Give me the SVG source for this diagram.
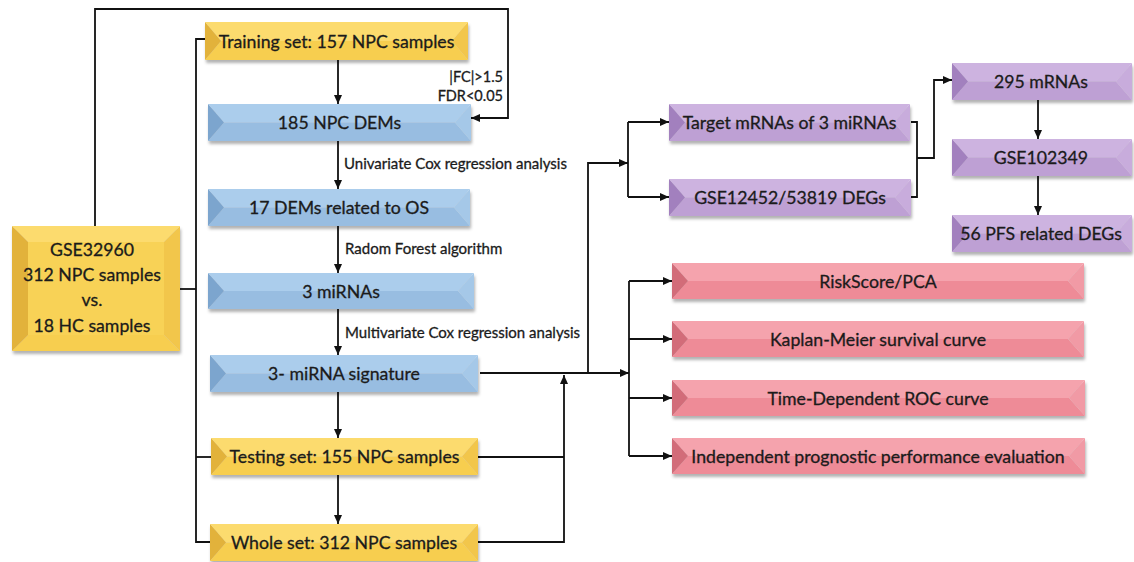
<svg xmlns="http://www.w3.org/2000/svg" width="1134" height="562" viewBox="0 0 1134 562">
<defs>
<filter id="sh" x="-5%" y="-20%" width="110%" height="150%">
<feDropShadow dx="1" dy="3" stdDeviation="1.5" flood-color="#000" flood-opacity="0.3"/>
</filter>
<marker id="ar" markerUnits="userSpaceOnUse" markerWidth="10" markerHeight="8" refX="9" refY="4" orient="auto">
<path d="M0,0 L9,4 L0,8 z" fill="#111"/>
</marker>
<style>
text{font-family:Lato,"Liberation Sans",sans-serif;fill:#1b1b1b;stroke:#1b1b1b;stroke-width:0.3;text-anchor:middle;dominant-baseline:central}
.bt{font-size:17.7px}
.lb{font-size:15px;text-anchor:start}
.lr{font-size:14.5px;text-anchor:end}
.c path{fill:none;stroke:#111;stroke-width:1.8}
.c path.a{marker-end:url(#ar)}
.y .t{fill:#FCDB6E}.y .b{fill:#F7CE50}.y .l{fill:#E2B23A}.y .r{fill:#F2C64C}.y .i{fill:#F8D257}
.u .t{fill:#ABCDEC}.u .b{fill:#98BDE1}.u .l{fill:#7CA5CE}.u .r{fill:#A5C8E8}
.p .t{fill:#CDB3E0}.p .b{fill:#BEA0D4}.p .l{fill:#A280BE}.p .r{fill:#C8ACDC}
.k .t{fill:#F5A3AD}.k .b{fill:#EE8B97}.k .l{fill:#D26C79}.k .r{fill:#F19AA5}
</style>
</defs>

<g id="connectors" class="c">
<path d="M95,226 V9 H508 V118 H471" class="a"/>
<path d="M180,289 H196"/>
<path d="M205,39 H196 V542 H210"/>
<path d="M196,457 H211"/>
<path d="M338,60 V104" class="a"/>
<path d="M338,141 V189" class="a"/>
<path d="M338,226 V273" class="a"/>
<path d="M338,309 V355" class="a"/>
<path d="M338,392 V438" class="a"/>
<path d="M338,475 V524" class="a"/>
<path d="M478,457 H564"/>
<path d="M478,542 H564 V375" class="a"/>
<path d="M480,373 H629" class="a"/>
<path d="M588,373 V163 H628" class="a"/>
<path d="M628,122 V197"/>
<path d="M628,122 H669" class="a"/>
<path d="M628,197 H669" class="a"/>
<path d="M911,122 H917 V197 H911"/>
<path d="M917,158 H934 V80 H952" class="a"/>
<path d="M1038,100 V139" class="a"/>
<path d="M1038,176 V215" class="a"/>
<path d="M629,281 V456"/>
<path d="M629,281 H672" class="a"/>
<path d="M629,339 H672" class="a"/>
<path d="M629,398 H672" class="a"/>
<path d="M629,456 H672" class="a"/>
</g>

<g id="gse32960" class="y">
<g filter="url(#sh)">
<rect class="i" x="28" y="242" width="136" height="93"/>
<polygon class="t" points="12,226 180,226 164,242 28,242"/>
<polygon class="b" points="28,335 164,335 180,351 12,351"/>
<polygon class="l" points="12,226 28,242 28,335 12,351"/>
<polygon class="r" points="180,226 164,242 164,335 180,351"/>
</g>
<text class="bt" x="92" y="249">GSE32960</text>
<text class="bt" x="92" y="274">312 NPC samples</text>
<text class="bt" x="92" y="299">vs.</text>
<text class="bt" x="92" y="325">18 HC samples</text>
</g>

<g id="training" class="y">
<g filter="url(#sh)">
<polygon class="t" points="205,22 468,22 452,41 221,41"/>
<polygon class="b" points="221,41 452,41 468,60 205,60"/>
<polygon class="l" points="205,22 221,41 205,60"/>
<polygon class="r" points="468,22 452,41 468,60"/>
</g>
<text class="bt" x="336.5" y="41">Training set: 157 NPC samples</text>
</g>

<g id="testing" class="y">
<g filter="url(#sh)">
<polygon class="t" points="211,438 478,438 462,456.5 227,456.5"/>
<polygon class="b" points="227,456.5 462,456.5 478,475 211,475"/>
<polygon class="l" points="211,438 227,456.5 211,475"/>
<polygon class="r" points="478,438 462,456.5 478,475"/>
</g>
<text class="bt" x="344.5" y="456.5">Testing set: 155 NPC samples</text>
</g>

<g id="whole" class="y">
<g filter="url(#sh)">
<polygon class="t" points="210,524 478,524 462,542.5 226,542.5"/>
<polygon class="b" points="226,542.5 462,542.5 478,561 210,561"/>
<polygon class="l" points="210,524 226,542.5 210,561"/>
<polygon class="r" points="478,524 462,542.5 478,561"/>
</g>
<text class="bt" x="344" y="542.5">Whole set: 312 NPC samples</text>
</g>

<g id="dem185" class="u">
<g filter="url(#sh)">
<polygon class="t" points="208,104 471,104 455,122.5 224,122.5"/>
<polygon class="b" points="224,122.5 455,122.5 471,141 208,141"/>
<polygon class="l" points="208,104 224,122.5 208,141"/>
<polygon class="r" points="471,104 455,122.5 471,141"/>
</g>
<text class="bt" x="339.5" y="122.5">185 NPC DEMs</text>
</g>

<g id="dem17" class="u">
<g filter="url(#sh)">
<polygon class="t" points="208,189 470,189 454,207.5 224,207.5"/>
<polygon class="b" points="224,207.5 454,207.5 470,226 208,226"/>
<polygon class="l" points="208,189 224,207.5 208,226"/>
<polygon class="r" points="470,189 454,207.5 470,226"/>
</g>
<text class="bt" x="339" y="207.5">17 DEMs related to OS</text>
</g>

<g id="mir3" class="u">
<g filter="url(#sh)">
<polygon class="t" points="208,273 474,273 458,291 224,291"/>
<polygon class="b" points="224,291 458,291 474,309 208,309"/>
<polygon class="l" points="208,273 224,291 208,309"/>
<polygon class="r" points="474,273 458,291 474,309"/>
</g>
<text class="bt" x="341" y="291">3 miRNAs</text>
</g>

<g id="signature" class="u">
<g filter="url(#sh)">
<polygon class="t" points="210,355 478,355 462,373.5 226,373.5"/>
<polygon class="b" points="226,373.5 462,373.5 478,392 210,392"/>
<polygon class="l" points="210,355 226,373.5 210,392"/>
<polygon class="r" points="478,355 462,373.5 478,392"/>
</g>
<text class="bt" x="344" y="373.5">3- miRNA signature</text>
</g>

<g id="labels">
<text class="lr" x="503" y="76">|FC|&gt;1.5</text>
<text class="lr" x="503" y="95">FDR&lt;0.05</text>
<text class="lb" x="344" y="163">Univariate Cox regression analysis</text>
<text class="lb" x="345" y="248">Radom Forest algorithm</text>
<text class="lb" x="345" y="332">Multivariate Cox regression analysis</text>
</g>

<g id="target" class="p">
<g filter="url(#sh)">
<polygon class="t" points="669,104 910,104 894,122.5 685,122.5"/>
<polygon class="b" points="685,122.5 894,122.5 910,141 669,141"/>
<polygon class="l" points="669,104 685,122.5 669,141"/>
<polygon class="r" points="910,104 894,122.5 910,141"/>
</g>
<text class="bt" x="789.5" y="122.5">Target mRNAs of 3 miRNAs</text>
</g>

<g id="gse12452" class="p">
<g filter="url(#sh)">
<polygon class="t" points="669,179 911,179 895,197.5 685,197.5"/>
<polygon class="b" points="685,197.5 895,197.5 911,216 669,216"/>
<polygon class="l" points="669,179 685,197.5 669,216"/>
<polygon class="r" points="911,179 895,197.5 911,216"/>
</g>
<text class="bt" x="790" y="197.5">GSE12452/53819 DEGs</text>
</g>

<g id="mrna295" class="p">
<g filter="url(#sh)">
<polygon class="t" points="952,63 1132,63 1116,81.5 968,81.5"/>
<polygon class="b" points="968,81.5 1116,81.5 1132,100 952,100"/>
<polygon class="l" points="952,63 968,81.5 952,100"/>
<polygon class="r" points="1132,63 1116,81.5 1132,100"/>
</g>
<text class="bt" x="1041" y="81.5">295 mRNAs</text>
</g>

<g id="gse102349" class="p">
<g filter="url(#sh)">
<polygon class="t" points="952,139 1132,139 1116,157.5 968,157.5"/>
<polygon class="b" points="968,157.5 1116,157.5 1132,176 952,176"/>
<polygon class="l" points="952,139 968,157.5 952,176"/>
<polygon class="r" points="1132,139 1116,157.5 1132,176"/>
</g>
<text class="bt" x="1041" y="157.5">GSE102349</text>
</g>

<g id="pfs56" class="p">
<g filter="url(#sh)">
<polygon class="t" points="952,215 1132,215 1116,233.5 968,233.5"/>
<polygon class="b" points="968,233.5 1116,233.5 1132,252 952,252"/>
<polygon class="l" points="952,215 968,233.5 952,252"/>
<polygon class="r" points="1132,215 1116,233.5 1132,252"/>
</g>
<text class="bt" x="1041" y="233.5">56 PFS related DEGs</text>
</g>

<g id="riskscore" class="k">
<g filter="url(#sh)">
<polygon class="t" points="672,263 1084,263 1068,281 688,281"/>
<polygon class="b" points="688,281 1068,281 1084,299 672,299"/>
<polygon class="l" points="672,263 688,281 672,299"/>
<polygon class="r" points="1084,263 1068,281 1084,299"/>
</g>
<text class="bt" x="878" y="281">RiskScore/PCA</text>
</g>

<g id="kaplan" class="k">
<g filter="url(#sh)">
<polygon class="t" points="672,321 1084,321 1068,339 688,339"/>
<polygon class="b" points="688,339 1068,339 1084,357 672,357"/>
<polygon class="l" points="672,321 688,339 672,357"/>
<polygon class="r" points="1084,321 1068,339 1084,357"/>
</g>
<text class="bt" x="878" y="339">Kaplan-Meier survival curve</text>
</g>

<g id="roc" class="k">
<g filter="url(#sh)">
<polygon class="t" points="672,380 1085,380 1069,398 688,398"/>
<polygon class="b" points="688,398 1069,398 1085,416 672,416"/>
<polygon class="l" points="672,380 688,398 672,416"/>
<polygon class="r" points="1085,380 1069,398 1085,416"/>
</g>
<text class="bt" x="878" y="398">Time-Dependent ROC curve</text>
</g>

<g id="independent" class="k">
<g filter="url(#sh)">
<polygon class="t" points="672,438 1085,438 1069,456 688,456"/>
<polygon class="b" points="688,456 1069,456 1085,474 672,474"/>
<polygon class="l" points="672,438 688,456 672,474"/>
<polygon class="r" points="1085,438 1069,456 1085,474"/>
</g>
<text class="bt" x="878" y="456">Independent prognostic performance evaluation</text>
</g>
</svg>
